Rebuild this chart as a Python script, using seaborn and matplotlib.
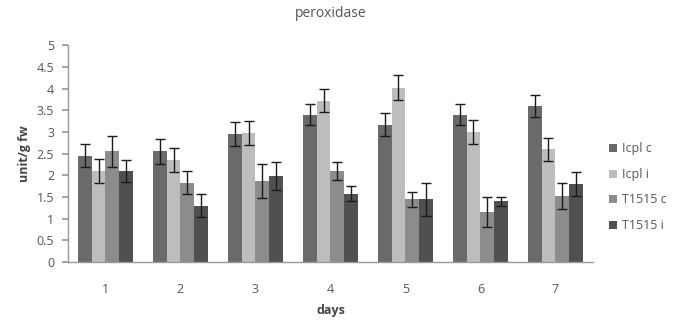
import matplotlib
matplotlib.use("Agg")
import matplotlib.pyplot as plt
import seaborn as sns
import pandas as pd
import numpy as np

days = ["1", "2", "3", "4", "5", "6", "7"]
series = ["Icpl c", "Icpl i", "T1515 c", "T1515 i"]
icpl_c = [2.45, 2.55, 2.95, 3.40, 3.17, 3.40, 3.60]
icpl_i = [2.10, 2.35, 2.97, 3.72, 4.02, 3.00, 2.60]
t1515_c = [2.55, 1.83, 1.87, 2.10, 1.45, 1.15, 1.52]
t1515_i = [2.10, 1.30, 1.98, 1.58, 1.45, 1.40, 1.80]
err_icpl_c = [0.27, 0.28, 0.27, 0.25, 0.27, 0.25, 0.25]
err_icpl_i = [0.28, 0.27, 0.27, 0.27, 0.28, 0.27, 0.27]
err_t1515_c = [0.35, 0.27, 0.40, 0.20, 0.17, 0.35, 0.30]
err_t1515_i = [0.25, 0.27, 0.33, 0.17, 0.38, 0.10, 0.27]
colors = ["#6a6a6a", "#bdbdbd", "#8c8c8c", "#505050"]

vals = [icpl_c, icpl_i, t1515_c, t1515_i]
errs = [err_icpl_c, err_icpl_i, err_t1515_c, err_t1515_i]
rows = []
for s, v, e in zip(series, vals, errs):
    for d, vv, ee in zip(days, v, e):
        rows.append({"day": d, "series": s, "value": vv, "err": ee})
df = pd.DataFrame(rows)

sns.set_theme(style="white")
plt.rcParams['font.family'] = ['Open Sans', 'DejaVu Sans']
fig = plt.figure(figsize=(6.73, 3.20), dpi=100)
ax = fig.add_axes([0.101, 0.181, 0.78, 0.678])
sns.barplot(data=df, x="day", y="value", hue="series", order=days, hue_order=series,
            palette=colors, errorbar=None, width=0.74, ax=ax, saturation=1,
            edgecolor="none", linewidth=0)

# error bars at bar centers
for i, s in enumerate(series):
    cont = ax.containers[i]
    sub = df[df.series == s].set_index("day").loc[days]
    xs = [p.get_x() + p.get_width() / 2 for p in cont.patches]
    ax.errorbar(xs, sub["value"].values, yerr=sub["err"].values, fmt="none",
                ecolor="#1a1a1a", elinewidth=1.0, capsize=3.5, capthick=1.0)

ax.set_ylim(0, 5)
ax.set_xlim(-0.5, 6.5)
ax.set_yticks(np.arange(0, 5.01, 0.5))
ax.set_yticklabels(["0", "0.5", "1", "1.5", "2", "2.5", "3", "3.5", "4", "4.5", "5"])
ax.tick_params(axis="y", which="both", left=True, length=4, color="#999999",
               labelsize=9, labelcolor="#555555", pad=6)
ax.tick_params(axis="x", bottom=False, labelsize=9, labelcolor="#555555", pad=9)
for side in ["top", "right"]:
    ax.spines[side].set_visible(False)
for side in ["left", "bottom"]:
    ax.spines[side].set_color("#999999")
    ax.spines[side].set_linewidth(1.0)

ax.set_xlabel("days", fontsize=9, fontweight="bold", color="#444444", labelpad=6)
ax.set_ylabel("unit/g fw", fontsize=9, fontweight="bold", color="#444444", labelpad=4)
ax.set_title("peroxidase", fontsize=10, color="#555555", pad=20)

leg = ax.legend(loc="center left", bbox_to_anchor=(1.01, 0.345), frameon=False,
                fontsize=9, handlelength=0.6, handleheight=0.6, handletextpad=0.4,
                labelspacing=1.0)
for t in leg.get_texts():
    t.set_color("#555555")

fig.savefig("out.png", dpi=100)
